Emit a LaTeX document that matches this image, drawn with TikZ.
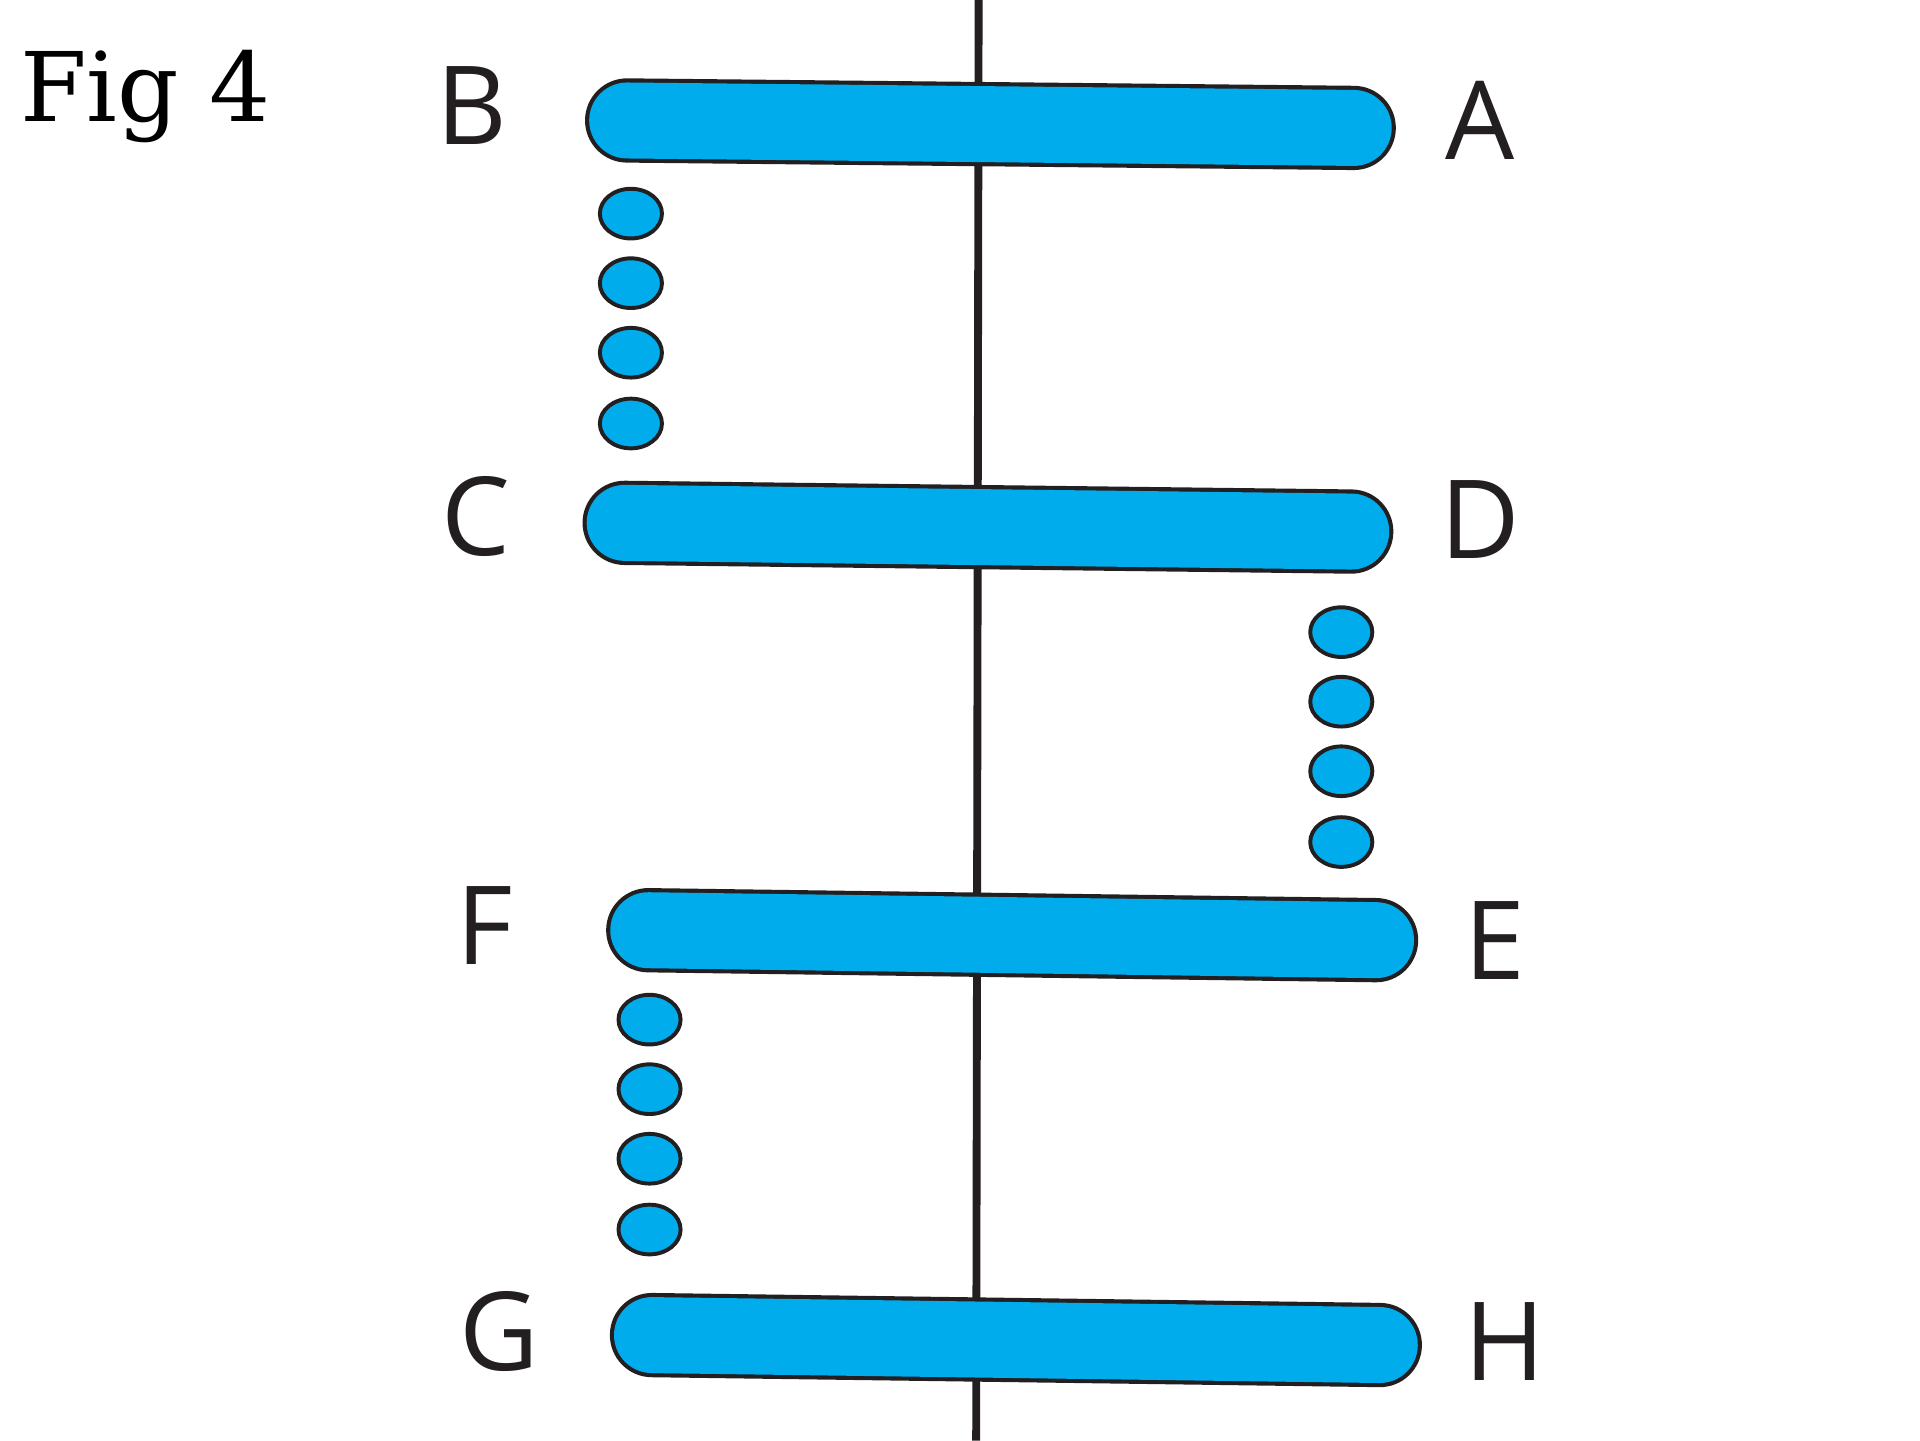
\documentclass[tikz,border=0pt]{standalone}
\usepackage{fontspec}
\setmainfont{Open Sans}
\newfontfamily\figfont{DejaVu Serif}
\definecolor{cyanb}{RGB}{0,172,236}
\definecolor{ink}{RGB}{35,31,32}
\begin{document}
\begin{tikzpicture}[x=0.01cm,y=-0.01cm,
  barout/.style={line width=19.3pt,line cap=round,draw=ink},
  barin/.style={line width=17.4pt,line cap=round,draw=cyanb},
  bead/.style={ellipse,draw=ink,fill=cyanb,line width=0.9pt,minimum width=50*0.01cm,minimum height=40*0.01cm,inner sep=0pt},
  lab/.style={font=\fontsize{25}{25}\selectfont,text=ink}]
\useasboundingbox (0,0) rectangle (1546,1160);
\coordinate (top) at (788,0);
\coordinate (bot) at (786,1160);
\draw[ink,line width=1.8pt] (top) -- (bot);
\foreach \n/\xa/\ya/\xb/\yb in {ab/505/97/1090/103, cd/503/421/1088/428, fe/522/749/1108/757, gh/525/1075/1111/1083}{
  \coordinate (\n1) at (\xa,\ya);
  \coordinate (\n2) at (\xb,\yb);
  \draw[barout] (\n1) -- (\n2);
  \draw[barin] (\n1) -- (\n2);
}
\usetikzlibrary{shapes.geometric}
\foreach \y [count=\i] in {172,228,284,341}{\node[bead] (l\i) at (508,\y) {};}
\foreach \y [count=\i] in {509,565,621,678}{\node[bead] (r\i) at (1080,\y) {};}
\foreach \y [count=\i] in {821,877,933,990}{\node[bead] (m\i) at (523,\y) {};}
\node[lab] (B) at (380,85) {B};
\node[lab] (A) at (1192,97) {A};
\node[lab] (C) at (383,416) {C};
\node[lab] (D) at (1192,418) {D};
\node[lab] (F) at (390,745) {F};
\node[lab] (E) at (1204,757) {E};
\node[lab] (G) at (402,1072) {G};
\node[lab] (H) at (1212,1080) {H};
\node[font=\figfont\fontsize{22}{22}\selectfont,text=black] (fig) at (117,78) {Fig 4};
\end{tikzpicture}
\end{document}
